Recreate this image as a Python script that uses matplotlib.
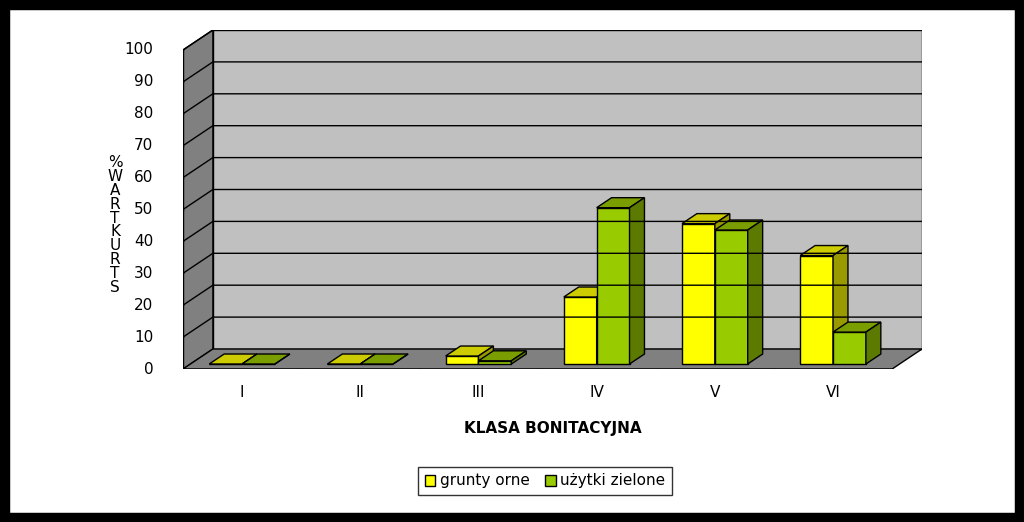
import matplotlib.pyplot as plt
from matplotlib.patches import Polygon, Rectangle, Patch

categories = ['I', 'II', 'III', 'IV', 'V', 'VI']
grunty_orne = [0, 0, 2.5, 21, 44, 34]
uzytki_zielone = [0, 0, 1, 49, 42, 10]
yticks = list(range(0, 101, 10))

fig = plt.figure(figsize=(10.24, 5.22), dpi=100)
fig.patch.set_facecolor('white')
fig.add_artist(Rectangle((0, 0), 1, 1, transform=fig.transFigure, fill=False,
                         edgecolor='black', linewidth=14))

ax = fig.add_axes([183 / 1024, (522 - 369) / 522, 739 / 1024, 339 / 522])
n = len(categories)
dx = 30 / (712 / n)
dy = 20 / 319 * 100
ax.set_xlim(0, n + dx)
ax.set_ylim(0, 100 + dy)
ax.axis('off')

# walls and floor
ax.add_patch(Polygon([(dx, dy), (n + dx, dy), (n + dx, 100 + dy), (dx, 100 + dy)],
                     closed=True, facecolor='#c0c0c0', edgecolor='black', lw=1))
ax.add_patch(Polygon([(0, 0), (dx, dy), (dx, 100 + dy), (0, 100)],
                     closed=True, facecolor='#808080', edgecolor='black', lw=1))
ax.add_patch(Polygon([(0, 0), (n, 0), (n + dx, dy), (dx, dy)],
                     closed=True, facecolor='#808080', edgecolor='black', lw=1))
for t in yticks[1:]:
    ax.plot([0, dx, n + dx], [t, t + dy, t + dy], color='black', lw=1)
    ax.text(-0.25, t, str(t), ha='right', va='center', fontsize=11)
ax.text(-0.25, 0, '0', ha='right', va='center', fontsize=11)
for t in yticks:
    ax.plot([-0.07, 0], [t, t], color='black', lw=1)
ax.plot([0, 0], [0, 100], color='black', lw=1)
ax.plot([0, n], [0, 0], color='black', lw=1)
for i in range(n + 1):
    ax.plot([i, i], [0, -2], color='black', lw=1)
for i, c in enumerate(categories):
    ax.text(i + 0.5, -5, c, ha='center', va='top', fontsize=11)

# bars
bw = 33 / (712 / n)
colors = [('#ffff00', '#cccc00', '#999900'), ('#99cc00', '#7a9e00', '#5c7a00')]


def bar3d(x0, h, cols):
    ox, oy = 0.25 * dx, 0.25 * dy
    bx, by = 0.5 * dx, 0.5 * dy
    x1 = x0 + bw
    ax.add_patch(Polygon([(x0 + ox, oy), (x1 + ox, oy), (x1 + ox, h + oy), (x0 + ox, h + oy)],
                         closed=True, facecolor=cols[0], edgecolor='black', lw=1))
    ax.add_patch(Polygon([(x0 + ox, h + oy), (x1 + ox, h + oy), (x1 + ox + bx, h + oy + by),
                          (x0 + ox + bx, h + oy + by)],
                         closed=True, facecolor=cols[1], edgecolor='black', lw=1))
    ax.add_patch(Polygon([(x1 + ox, oy), (x1 + ox + bx, oy + by), (x1 + ox + bx, h + oy + by),
                          (x1 + ox, h + oy)],
                         closed=True, facecolor=cols[2], edgecolor='black', lw=1))


for i in range(n):
    start = i + 0.5 - bw - 0.25 * dx
    bar3d(start, grunty_orne[i], colors[0])
    bar3d(start + bw, uzytki_zielone[i], colors[1])

fig.text(553 / 1024, 1 - 428 / 522, 'KLASA BONITACYJNA', ha='center', va='center',
         fontsize=11, fontweight='bold')
fig.text(115 / 1024, 1 - 225 / 522, '%\nW\nA\nR\nT\nK\nU\nR\nT\nS', ha='center',
         va='center', fontsize=11, linespacing=0.9)

handles = [Patch(facecolor=colors[0][0], edgecolor='black', label='grunty orne'),
           Patch(facecolor=colors[1][0], edgecolor='black', label='użytki zielone')]
fig.legend(handles=handles, loc='center', bbox_to_anchor=(545 / 1024, 1 - 481 / 522),
           ncol=2, fontsize=11, frameon=True, fancybox=False, edgecolor='black',
           handlelength=0.7, handleheight=0.7, handletextpad=0.3, columnspacing=1.0)

fig.savefig('out.png', dpi=100)
